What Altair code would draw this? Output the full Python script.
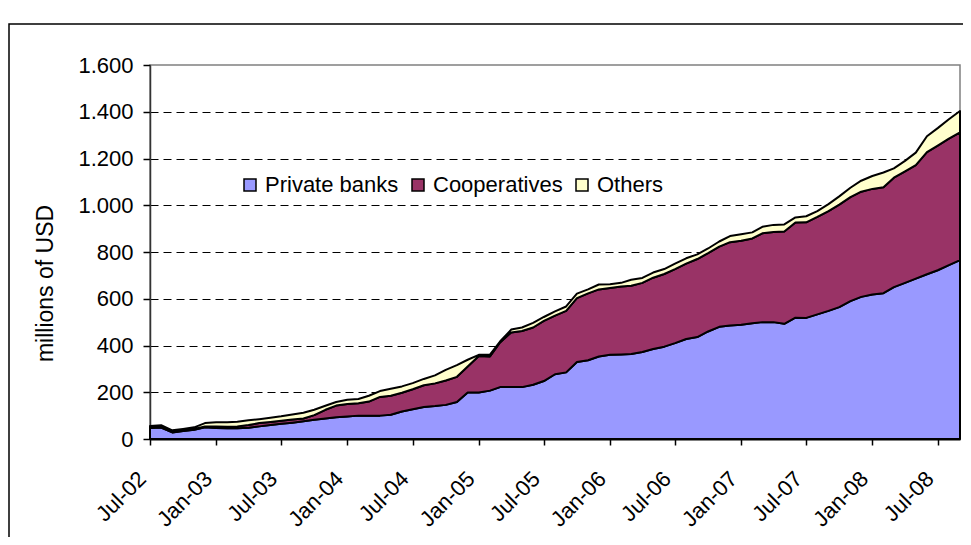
import altair as alt
import pandas as pd

# Monthly categories Jul-02 .. Sep-08
months = pd.date_range("2002-07-01", periods=75, freq="MS").strftime("%Y-%m-%d").tolist()

series_names = ["Private banks", "Cooperatives", "Others"]
series_colors = ["#9999FF", "#993366", "#FFFFCC"]

private_banks = [47, 49, 28, 34, 40, 50, 47, 46, 46, 48, 54, 60,
                 65, 70, 76, 82, 88, 93, 96, 100, 100, 100, 104, 118,
                 127, 137, 141, 146, 158, 199, 199, 207, 222, 222, 222, 232,
                 248, 277, 285, 329, 337, 353, 360, 362, 364, 372, 385, 395,
                 410, 428, 436, 460, 480, 486, 489, 495, 500, 500, 493, 519,
                 518, 533, 548, 564, 590, 608, 618, 624, 650, 668, 686, 705,
                 722, 744, 765]
cooperatives = [3, 3, 3, 3, 3, 4, 6, 6, 8, 12, 14, 13,
                13, 13, 12, 20, 37, 50, 54, 53, 60, 80, 81, 80,
                86, 93, 97, 104, 108, 111, 156, 146, 191, 234, 240, 245,
                257, 251, 263, 274, 286, 287, 286, 290, 292, 296, 305, 311,
                317, 322, 334, 335, 343, 356, 359, 363, 380, 386, 395, 407,
                409, 417, 427, 439, 445, 450, 452, 453, 468, 477, 486, 522,
                533, 541, 547]
others = [6, 7, 6, 6, 7, 14, 19, 20, 20, 20, 17, 18,
          19, 22, 24, 23, 17, 15, 18, 18, 25, 25, 30, 27,
          26, 27, 34, 46, 50, 29, 5, 8, 4, 12, 15, 20,
          17, 18, 19, 19, 17, 21, 16, 16, 25, 21, 22, 21,
          23, 23, 20, 20, 22, 26, 28, 26, 28, 30, 30, 22,
          26, 25, 30, 35, 40, 47, 55, 63, 40, 45, 53, 68,
          75, 83, 91]

y_ticks = [0, 200, 400, 600, 800, 1000, 1200, 1400, 1600]
x_ticks = [(y, m) for y in range(2002, 2009) for m in (1, 7)
           if (2002, 7) <= (y, m) <= (2008, 7)]

rows = []
for k, (name, vals) in enumerate(zip(series_names, [private_banks, cooperatives, others])):
    for d, v in zip(months, vals):
        rows.append({"date": d, "series": name, "value": v, "ord": k})
df = pd.DataFrame(rows)

FONT = "Liberation Sans"
FS = 22

areas = alt.Chart(df).mark_area(
    stroke="black", strokeWidth=2, strokeJoin="round", opacity=1
).encode(
    x=alt.X(
        "date:T",
        scale=alt.Scale(
            type="utc", nice=False,
            domain=[alt.DateTime(year=2002, month=7, date=1, utc=True),
                    alt.DateTime(year=2008, month=9, date=1, utc=True)],
        ),
        axis=alt.Axis(
            values=[alt.DateTime(year=y, month=m, date=1, utc=True) for y, m in x_ticks],
            labelExpr="utcFormat(datum.value, '%b-%y')", title=None,
            labelAngle=315, labelAlign="right", labelBaseline="middle",
            labelPadding=30, labelOffset=-8,
            labelFont=FONT, labelFontSize=FS, labelColor="black",
            domainColor="black", domainWidth=2, tickColor="black", tickWidth=1.5,
            tickSize=6, grid=False, labelOverlap=False, zindex=1,
        ),
    ),
    y=alt.Y(
        "value:Q", stack="zero",
        scale=alt.Scale(domain=[0, 1600], nice=False),
        axis=alt.Axis(
            values=y_ticks,
            labelExpr="replace(format(datum.value, ','), ',', '.')",
            title="millions of USD", titleFont=FONT, titleFontSize=23,
            titleFontWeight="normal", titleColor="black", titleAngle=270,
            titleX=-105, titleY=218, titleAlign="center", titleBaseline="middle",
            labelFont=FONT, labelFontSize=FS, labelColor="black", labelPadding=10,
            domainColor="#333333", domainWidth=1.5, tickColor="black", tickWidth=1.5,
            tickSize=7, grid=True, gridColor="black", gridDash=[8, 5], gridWidth=1,
            gridOpacity=alt.condition("datum.value >= 1600 || datum.value <= 0",
                                      alt.value(0), alt.value(1)),
        ),
    ),
    color=alt.Color(
        "series:N",
        scale=alt.Scale(domain=series_names, range=series_colors),
        legend=alt.Legend(
            orient="none", legendX=89, legendY=109, direction="horizontal",
            title=None, symbolType="square", symbolSize=144,
            symbolStrokeColor="black", symbolStrokeWidth=1.5, symbolOpacity=1,
            labelFont=FONT, labelFontSize=FS, labelColor="black",
            labelOffset=4, columnPadding=8, padding=0, labelLimit=400,
        ),
    ),
    order=alt.Order("ord:Q", sort="ascending"),
)

frame = alt.Chart(pd.DataFrame({"f": [0]})).mark_rect(
    filled=False, stroke="black", strokeWidth=1.5
).encode(
    x=alt.value(-141), x2=alt.value(900), y=alt.value(-41), y2=alt.value(700)
)

chart = alt.layer(frame, areas).properties(
    width=810, height=374,
    autosize=alt.AutoSizeParams(type="none"),
    padding={"left": 142, "top": 57, "right": 3, "bottom": 98},
    background="white",
).configure_view(stroke="#808080", strokeWidth=1.5)

chart.save("out.html", embed_options={"renderer": "svg", "actions": False})
